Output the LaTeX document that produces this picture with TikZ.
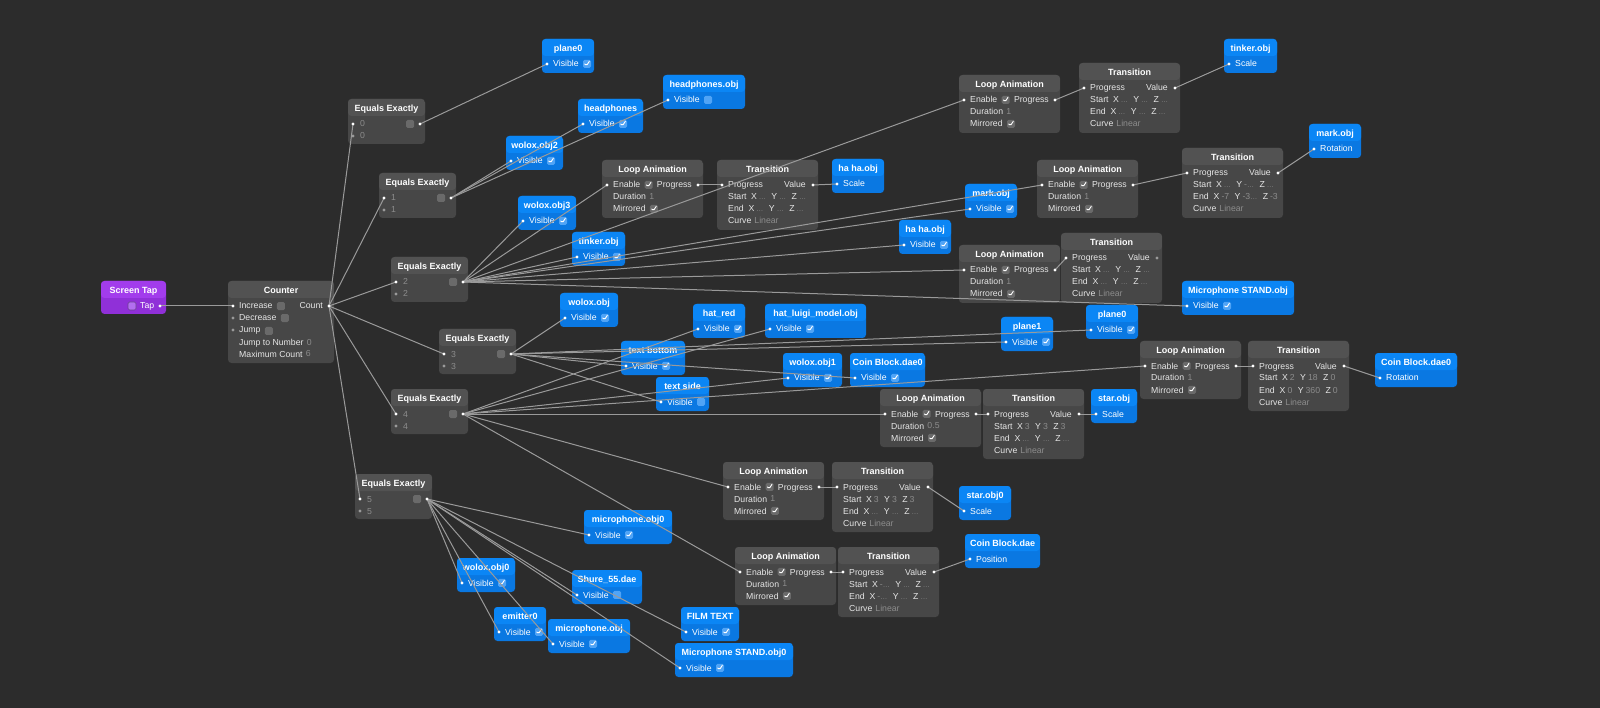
\documentclass[tikz,border=0pt]{standalone}
\usepackage{fontspec}
\setmainfont{Liberation Sans}
\usetikzlibrary{positioning}
\pgfdeclarelayer{bg}
\pgfdeclarelayer{wires}
\pgfdeclarelayer{dots}
\pgfsetlayers{bg,main,wires,dots}

\definecolor{bgc}{HTML}{2C2C2C}
\definecolor{gbody}{HTML}{474747}
\definecolor{ghead}{HTML}{525252}
\definecolor{bbody}{HTML}{0A78E2}
\definecolor{bhead}{HTML}{0B86F5}
\definecolor{pbody}{HTML}{9030D8}
\definecolor{phead}{HTML}{A23CEC}
\definecolor{wirec}{HTML}{9A9A9A}
\definecolor{labc}{HTML}{E6E6E6}
\definecolor{dimc}{HTML}{8C8C8C}
\definecolor{gcb}{HTML}{6A6A6A}
\definecolor{bcb}{HTML}{50A4F6}
\definecolor{pcb}{HTML}{B36EF0}
\definecolor{gdot}{HTML}{9A9A9A}

\tikzset{
  boxbase/.style={anchor=north west, inner sep=0pt, outer sep=0pt, rounded corners=3.5pt},
  gbox/.style={boxbase, fill=gbody, path picture={\fill[ghead] (path picture bounding box.north west) rectangle ([yshift=-17pt]path picture bounding box.north east);}},
  bbox/.style={boxbase, fill=bbody, path picture={\fill[bhead] (path picture bounding box.north west) rectangle ([yshift=-17pt]path picture bounding box.north east);}},
  pbox/.style={boxbase, fill=pbody, path picture={\fill[phead] (path picture bounding box.north west) rectangle ([yshift=-17pt]path picture bounding box.north east);}},
  ttl/.style={font=\bfseries\fontsize{9}{10}\selectfont, text=white, inner sep=0pt, anchor=base},
  lab/.style={font=\fontsize{8.7}{10}\selectfont, text=labc, inner sep=0pt, anchor=base west},
  val/.style={font=\fontsize{8.7}{10}\selectfont, text=dimc, inner sep=0pt, anchor=base west},
  cbox/.style={minimum size=8pt, inner sep=0pt, rounded corners=1.5pt},
  chk/.style={path picture={\draw[white, line width=0.9pt, line cap=round, line join=round] ([xshift=-2.3pt]path picture bounding box.center) -- ([xshift=-0.7pt,yshift=-2pt]path picture bounding box.center) -- ([xshift=2.3pt,yshift=2.6pt]path picture bounding box.center);}},
  nochk/.style={},
  wire/.style={draw=wirec, line width=1pt}
}

\newcommand\pdot[2][white]{\begin{pgfonlayer}{dots}\fill[#1] (#2) circle (1.7pt);\end{pgfonlayer}}
\newcommand\dd{{\fontsize{7}{8}\selectfont …}}
\newcommand\xyz[3]{X\hspace{2pt}{\color{dimc}#1}\hspace{5.5pt}Y\hspace{2pt}{\color{dimc}#2}\hspace{5.5pt}Z\hspace{2pt}{\color{dimc}#3}}

\newcommand\bhdr[5]{%
  \node[bbox, minimum width=#4pt, minimum height=34pt] (#1) at (#2,#3) {};
  \node[ttl] (#1-t) at ({#2+#4/2},{#3+12.2}) {#5};
  \coordinate (#1-p) at ({#2+5},{#3+25});
  \pdot{#1-p}}
\newcommand\bvis[6]{\bhdr{#1}{#2}{#3}{#4}{#5}%
  \node[lab, text=white] (#1-l) at ({#2+11},{#3+28}) {Visible};
  \node[cbox, fill=bcb, #6, right=4pt of #1-l] (#1-c) {};}
\newcommand\bprop[6]{\bhdr{#1}{#2}{#3}{#4}{#5}%
  \node[lab, text=white] (#1-l) at ({#2+11},{#3+28}) {#6};}

\newcommand\eqx[4]{%
  \node[gbox, minimum width=77pt, minimum height=45pt] (#1) at (#2,#3) {};
  \node[ttl] (#1-t) at ({#2+38.5},{#3+12.2}) {Equals Exactly};
  \node[val] (#1-a) at ({#2+12},{#3+28}) {#4};
  \node[val] (#1-b) at ({#2+12},{#3+40}) {#4};
  \node[cbox, fill=gcb] (#1-c) at ({#2+62},{#3+25}) {};
  \coordinate (#1-i) at ({#2+5},{#3+25});
  \coordinate (#1-j) at ({#2+5},{#3+37});
  \coordinate (#1-o) at ({#2+72},{#3+25});
  \pdot{#1-i}\pdot[gdot]{#1-j}\pdot{#1-o}}

\newcommand\loopanim[4]{%
  \node[gbox, minimum width=101pt, minimum height=58pt] (#1) at (#2,#3) {};
  \node[ttl] (#1-t) at ({#2+50.5},{#3+12.2}) {Loop Animation};
  \node[lab] (#1-l1) at ({#2+11},{#3+28}) {Enable};
  \node[cbox, chk, fill=gcb, right=4pt of #1-l1] (#1-c1) {};
  \node[lab, anchor=base east] (#1-l2) at ({#2+90},{#3+28}) {Progress};
  \node[lab] (#1-l3) at ({#2+11},{#3+40}) {Duration};
  \node[val, right=3pt of #1-l3] (#1-v3) {#4};
  \node[lab] (#1-l4) at ({#2+11},{#3+52}) {Mirrored};
  \node[cbox, chk, fill=gcb, right=4pt of #1-l4] (#1-c4) {};
  \coordinate (#1-en) at ({#2+5},{#3+25});
  \coordinate (#1-pr) at ({#2+96},{#3+25});
  \pdot{#1-en}\pdot{#1-pr}}

\newcommand\trans[6]{%
  \node[gbox, minimum width=101pt, minimum height=70pt] (#1) at (#2,#3) {};
  \node[ttl] (#1-t) at ({#2+50.5},{#3+12.2}) {Transition};
  \node[lab] (#1-l1) at ({#2+11},{#3+28}) {Progress};
  \node[lab, anchor=base east] (#1-l2) at ({#2+89},{#3+28}) {Value};
  \node[lab] (#1-l3) at ({#2+11},{#3+40}) {Start\hspace{4.5pt}#4};
  \node[lab] (#1-l4) at ({#2+11},{#3+52}) {End\hspace{5pt}#5};
  \node[lab] (#1-l5) at ({#2+11},{#3+64}) {Curve\hspace{3pt}{\color{dimc}Linear}};
  \coordinate (#1-pi) at ({#2+5},{#3+25});
  \coordinate (#1-v) at ({#2+96},{#3+25});
  \pdot{#1-pi}\pdot[#6]{#1-v}}

\begin{document}
\begin{tikzpicture}[x=1pt,y=-1pt]
\useasboundingbox (0,0) rectangle (1600,708);
\begin{pgfonlayer}{bg}\fill[bgc] (0,0) rectangle (1600,708);\end{pgfonlayer}

% Screen Tap
\node[pbox, minimum width=65pt, minimum height=33pt] (scr) at (101,281) {};
\node[ttl] (scr-t) at (133.5,293.2) {Screen Tap};
\node[cbox, fill=pcb, draw=pcb!60!black, line width=0.6pt] (scr-c) at (132,306) {};
\node[lab, text=white] (scr-l) at (140,309) {Tap};
\coordinate (scr-tap) at (160,306);
\pdot{scr-tap}

% Counter
\node[gbox, minimum width=106pt, minimum height=82pt] (cnt) at (228,281) {};
\node[ttl] (cnt-t) at (281,293.2) {Counter};
\node[lab] (cnt-l1) at (239,309) {Increase};
\node[cbox, fill=gcb, right=4pt of cnt-l1] (cnt-c1) {};
\node[lab, anchor=base east] (cnt-l1b) at (323,309) {Count};
\node[lab] (cnt-l2) at (239,321) {Decrease};
\node[cbox, fill=gcb, right=4pt of cnt-l2] (cnt-c2) {};
\node[lab] (cnt-l3) at (239,333) {Jump};
\node[cbox, fill=gcb, right=4pt of cnt-l3] (cnt-c3) {};
\node[lab] (cnt-l4) at (239,345) {Jump to Number};
\node[val, right=3pt of cnt-l4] (cnt-v4) {0};
\node[lab] (cnt-l5) at (239,357) {Maximum Count};
\node[val, right=3pt of cnt-l5] (cnt-v5) {6};
\coordinate (cnt-inc) at (233,306);
\coordinate (cnt-dec) at (233,318);
\coordinate (cnt-jmp) at (233,330);
\coordinate (cnt-cnt) at (329,306);
\pdot{cnt-inc}\pdot[gdot]{cnt-dec}\pdot[gdot]{cnt-jmp}\pdot{cnt-cnt}

% Equals Exactly
\eqx{ee0}{348}{99}{0}
\eqx{ee1}{379}{173}{1}
\eqx{ee2}{391}{257}{2}
\eqx{ee3}{439}{329}{3}
\eqx{ee4}{391}{389}{4}
\eqx{ee5}{355}{474}{5}

% Loop animations
\loopanim{la1}{602}{160}{1}
\loopanim{la2}{959}{75}{1}
\loopanim{la3}{1037}{160}{1}
\loopanim{la4}{959}{245}{1}
\loopanim{la5}{880}{389}{0.5}
\loopanim{la6}{1140}{341}{1}
\loopanim{la7}{723}{462}{1}
\loopanim{la8}{735}{547}{1}

% Transitions
\trans{t1}{717}{160}{\xyz{\dd}{\dd}{\dd}}{\xyz{\dd}{\dd}{\dd}}{white}
\trans{t2}{1079}{63}{\xyz{\dd}{\dd}{\dd}}{\xyz{\dd}{\dd}{\dd}}{white}
\trans{t3}{1182}{148}{\xyz{\dd}{-\dd}{\dd}}{\xyz{-7}{-3\dd}{-3}}{white}
\trans{t4}{1061}{233}{\xyz{\dd}{\dd}{\dd}}{\xyz{\dd}{\dd}{\dd}}{gdot}
\trans{t5}{983}{389}{\xyz{3}{3}{3}}{\xyz{\dd}{\dd}{\dd}}{white}
\trans{t6}{1248}{341}{\xyz{2}{18}{0}}{\xyz{0}{360}{0}}{white}
\trans{t7}{832}{462}{\xyz{3}{3}{3}}{\xyz{\dd}{\dd}{\dd}}{white}
\trans{t8}{838}{547}{\xyz{-\dd}{\dd}{\dd}}{\xyz{-\dd}{\dd}{\dd}}{white}

% Blue object nodes
\bvis{plane0a}{542}{39}{52}{plane0}{chk}
\bvis{hp}{578}{99}{65}{headphones}{chk}
\bvis{hpobj}{663}{75}{82}{headphones.obj}{nochk}
\bvis{wolox2}{506}{136}{57}{wolox.obj2}{chk}
\bvis{wolox3}{518}{196}{58}{wolox.obj3}{chk}
\bvis{tinkerA}{572}{232}{53}{tinker.obj}{chk}
\bvis{wolox}{560}{293}{58}{wolox.obj}{chk}
\bprop{hahaA}{832}{159}{52}{ha ha.obj}{Scale}
\bprop{tinkerB}{1224}{39}{53}{tinker.obj}{Scale}
\bvis{markA}{965}{184}{52}{mark.obj}{chk}
\bvis{hahaB}{899}{220}{52}{ha ha.obj}{chk}
\bprop{markB}{1309}{124}{52}{mark.obj}{Rotation}
\bvis{micstand}{1182}{281}{112}{Microphone STAND.obj}{chk}
\bvis{plane0b}{1086}{305}{52}{plane0}{chk}
\bvis{plane1}{1001}{317}{52}{plane1}{chk}
\bvis{hatred}{693}{304}{52}{hat\_red}{chk}
\bvis{hatluigi}{765}{304}{101}{hat\_luigi\_model.obj}{chk}
\bvis{textbottom}{621}{341}{64}{text bottom}{chk}
\bvis{textside}{656}{377}{53}{text side}{nochk}
\bvis{wolox1}{783}{353}{59}{wolox.obj1}{chk}
\bvis{coinA}{850}{353}{75}{Coin Block.dae0}{chk}
\bprop{star}{1091}{389}{46}{star.obj}{Scale}
\bprop{coinB}{1375}{353}{82}{Coin Block.dae0}{Rotation}
\bvis{mic0}{584}{510}{88}{microphone.obj0}{chk}
\bvis{wolox0}{457}{558}{58}{wolox.obj0}{chk}
\bvis{shure}{572}{570}{70}{Shure\_55.dae}{nochk}
\bvis{emitter}{494}{607}{52}{emitter0}{chk}
\bvis{mic}{548}{619}{82}{microphone.obj}{chk}
\bvis{film}{681}{607}{58}{FILM TEXT}{chk}
\bvis{micstand0}{675}{643}{118}{Microphone STAND.obj0}{chk}
\bprop{star0}{959}{486}{52}{star.obj0}{Scale}
\bprop{coin}{965}{534}{75}{Coin Block.dae}{Position}

% Wires
\begin{pgfonlayer}{wires}
\draw[wire] (scr-tap) -- (cnt-inc);
\foreach \e in {ee0,ee1,ee2,ee3,ee4,ee5} \draw[wire] (cnt-cnt) -- (\e-i);
\draw[wire] (ee0-o) -- (plane0a-p);
\foreach \t in {wolox2,hp,hpobj} \draw[wire] (ee1-o) -- (\t-p);
\foreach \t in {wolox3,tinkerA,markA,hahaB,micstand} \draw[wire] (ee2-o) -- (\t-p);
\foreach \t in {la1,la2,la3,la4} \draw[wire] (ee2-o) -- (\t-en);
\foreach \t in {wolox,textbottom,textside,plane1,plane0b,coinA} \draw[wire] (ee3-o) -- (\t-p);
\foreach \t in {hatred,hatluigi,wolox1} \draw[wire] (ee4-o) -- (\t-p);
\foreach \t in {la5,la6,la7,la8} \draw[wire] (ee4-o) -- (\t-en);
\foreach \t in {mic0,wolox0,shure,emitter,mic,film,micstand0} \draw[wire] (ee5-o) -- (\t-p);
\foreach \n in {1,...,8} \draw[wire] (la\n-pr) -- (t\n-pi);
\draw[wire] (t1-v) -- (hahaA-p);
\draw[wire] (t2-v) -- (tinkerB-p);
\draw[wire] (t3-v) -- (markB-p);
\draw[wire] (t5-v) -- (star-p);
\draw[wire] (t6-v) -- (coinB-p);
\draw[wire] (t7-v) -- (star0-p);
\draw[wire] (t8-v) -- (coin-p);
\end{pgfonlayer}
\end{tikzpicture}
\end{document}
